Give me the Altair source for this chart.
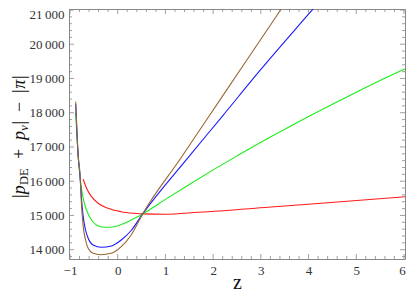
import altair as alt
import pandas as pd
import numpy as np

# ---- data ----
red_z = [-0.724, -0.653, -0.549, -0.412, -0.204, 0.074, 0.35, 0.523, 0.973, 1.7, 3.15, 4.54, 6.04]
red_v = [16056, 15793, 15548, 15355, 15209, 15110, 15063, 15045, 15034, 15092, 15238, 15384, 15550]

green_z = [-0.88, -0.828, -0.792, -0.744, -0.688, -0.619, -0.549, -0.446, -0.273, -0.065, 0.143,
           0.35, 0.523, 1.0, 1.5, 2.0, 2.5, 3.0, 3.5, 4.0, 4.5, 5.0, 5.5, 6.04]
green_v = [18000, 16716, 16150, 15647, 15305, 15042, 14867, 14721, 14654, 14672, 14771,
           14917, 15045, 15470, 15905, 16330, 16740, 17140, 17520, 17890, 18250, 18600, 18940, 19290]

blue_z = [-0.88, -0.828, -0.792, -0.757, -0.723, -0.674, -0.619, -0.516, -0.343, -0.134, 0.074,
          0.282, 0.523, 1.444, 2.2, 2.96, 3.985, 4.3]
blue_v = [18250, 16716, 16200, 15451, 14964, 14575, 14333, 14137, 14070, 14108, 14283,
          14560, 15045, 16640, 17910, 19199, 20855, 21360]

brown_z = [-0.88, -0.828, -0.792, -0.757, -0.723, -0.674, -0.619, -0.516, -0.356, -0.134, 0.074,
           0.282, 0.523, 1.306, 2.2, 3.0, 3.6]
brown_v = [18320, 16750, 16231, 15256, 14672, 14283, 14041, 13895, 13854, 13895, 14088,
           14430, 15045, 16640, 18491, 20147, 21389]

series_colors = ["#ff1a1a", "#1aee1a", "#1a1aff", "#996633"]

x_major = list(range(-1, 7))
x_minor = [round(v, 1) for v in np.arange(-1.0, 6.01, 0.2) if abs(v - round(v)) > 1e-6]
y_major = list(range(14000, 21001, 1000))
y_minor = [v for v in range(13800, 21001, 200) if v % 1000 != 0]

# ---- layout ----
W, H = 336, 250
FONT = "Liberation Serif"
xscale = alt.Scale(domain=[-1.021, 6.021], nice=False, zero=False)
yscale = alt.Scale(domain=[13728, 21029], nice=False, zero=False)

xaxis = alt.Axis(values=x_major, format="d", ticks=False, domain=False, grid=False,
                 labelFlush=False, labelOverlap=False, labelPadding=5,
                 labelOffset={"condition": {"test": "datum.value == 6", "value": -2}, "value": 0},
                 labelFont=FONT, labelFontSize=13, labelColor="#333",
                 title="z", titleFont=FONT, titleFontSize=20, titleFontWeight="normal",
                 titleColor="#111", titleBaseline="alphabetic", titleY=29.5)
yaxis = alt.Axis(values=y_major, ticks=False, domain=False, grid=False,
                 labelOverlap=False, labelPadding=5,
                 labelOffset={"condition": {"test": "datum.value == 21000", "value": 5}, "value": 0},
                 labelExpr="replace(format(datum.value, ','), ',', '\u2009')",
                 labelFont=FONT, labelFontSize=13, labelColor="#333", title=None)

X = lambda f="z": alt.X(f"{f}:Q", scale=xscale, axis=xaxis)
Y = lambda f="v": alt.Y(f"{f}:Q", scale=yscale, axis=yaxis)

layers = []
for zs, vs, col in [(red_z, red_v, series_colors[0]), (green_z, green_v, series_colors[1]),
                    (blue_z, blue_v, series_colors[2]), (brown_z, brown_v, series_colors[3])]:
    df = pd.DataFrame({"z": zs, "v": vs})
    layers.append(alt.Chart(df).mark_line(color=col, strokeWidth=1.1, clip=True,
                                          interpolate="monotone").encode(x=X(), y=Y()))

tick_col, tick_w = "#888", 0.8
dxM = pd.DataFrame({"z": x_major})
dxm = pd.DataFrame({"z": x_minor})
dyM = pd.DataFrame({"v": y_major})
dym = pd.DataFrame({"v": y_minor})
for d, L in [(dxM, 5), (dxm, 3)]:
    layers.append(alt.Chart(d).mark_rule(color=tick_col, strokeWidth=tick_w).encode(
        x=X(), y=alt.value(H), y2=alt.value(H - L)))
    layers.append(alt.Chart(d).mark_rule(color=tick_col, strokeWidth=tick_w).encode(
        x=X(), y=alt.value(0), y2=alt.value(L)))
for d, L in [(dyM, 5), (dym, 3)]:
    layers.append(alt.Chart(d).mark_rule(color=tick_col, strokeWidth=tick_w).encode(
        y=Y(), x=alt.value(0), x2=alt.value(L)))
    layers.append(alt.Chart(d).mark_rule(color=tick_col, strokeWidth=tick_w).encode(
        y=Y(), x=alt.value(W), x2=alt.value(W - L)))

# ---- rotated y title |p_DE + p_nu| - |pi| built from pieces ----
LEFT, TOP = 69, 9
main_x, sub_x = 24.5 - LEFT, 28 - LEFT
MS, SS = 18, 12.5
pieces = [
    ("|", 198.0, MS, "normal", main_x),
    ("p", 194.2, MS, "italic", main_x),
    ("DE", 185.0, SS, "normal", sub_x),
    ("+", 159.0, MS, "normal", main_x),
    ("p", 140.0, MS, "italic", main_x),
    ("\u03bd", 130.8, SS, "italic", sub_x),
    ("|", 124.5, MS, "normal", main_x),
    ("\u2212", 112.0, MS, "normal", main_x),
    ("|", 93.0, MS, "normal", main_x),
    ("\u03c0", 88.8, MS, "italic", main_x),
    ("|", 79.0, MS, "normal", main_x),
]
one = pd.DataFrame({"k": [0]})
for txt, ypg, fs, style, xx in pieces:
    layers.append(alt.Chart(one).mark_text(
        text=txt, font=FONT, fontSize=fs, fontStyle=style, color="#111",
        angle=270, align="left", baseline="alphabetic").encode(
        x=alt.value(xx), y=alt.value(ypg - TOP)))

chart = alt.layer(*layers).properties(
    width=W, height=H,
    autosize=alt.AutoSizeParams(type="none"),
    padding={"left": LEFT - 8, "top": TOP - 8, "right": 1, "bottom": 34},
).configure(font=FONT).configure_view(stroke="#888", strokeWidth=1).configure_axis(
    labelFont=FONT, titleFont=FONT)

chart.save("out.html", embed_options={"renderer": "svg", "actions": False})
